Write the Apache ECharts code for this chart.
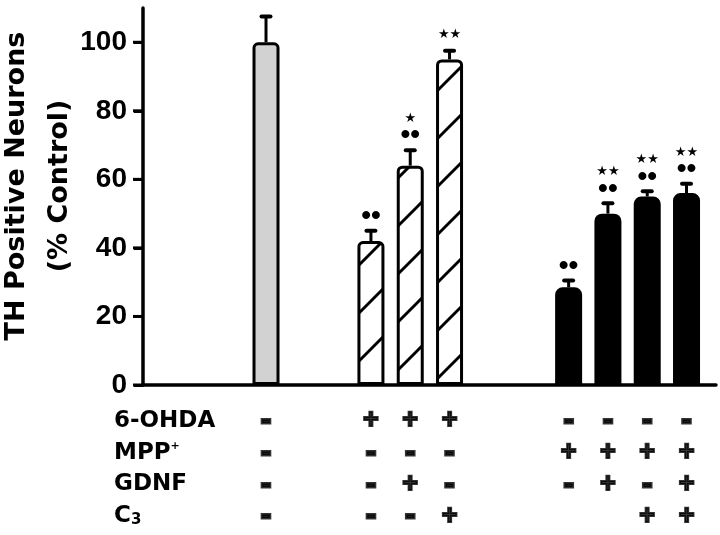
<!DOCTYPE html>
<html><head><meta charset="utf-8">
<script src="https://cdn.jsdelivr.net/npm/echarts@6/dist/echarts.min.js"></script>
<style>html,body{margin:0;padding:0;background:#fff}#c{width:720px;height:535px}</style>
</head><body><div id="c"></div>
<script>
// ---- data ----
const conditions = ['Control','6-OHDA','6-OHDA + GDNF','6-OHDA + C3','MPP+','MPP+ + GDNF','MPP+ + C3','MPP+ + GDNF + C3'];
const groups = ['control','ohda','ohda','ohda','mpp','mpp','mpp','mpp'];
const xSlots = [0, 2.67, 3.67, 4.67, 7.7, 8.7, 9.7, 10.7];
const values = [100, 42, 64, 95, 28.5, 50, 55, 56];
const errors = [7.5, 3, 4.5, 2.5, 2, 3, 1.5, 2.7];
const dotMarks = [0, 1, 1, 0, 1, 1, 1, 1];
const starMarks = [0, 0, 1, 2, 0, 2, 2, 2];
const yTicks = [0, 20, 40, 60, 80, 100];
const rowLabels = ['6-OHDA', 'MPP+', 'GDNF', 'C3'];
const row6OHDA = ['-','+','+','+','-','-','-','-'];
const rowMPP   = ['-','-','-','-','+','+','+','+'];
const rowGDNF  = ['-','-','+','-','-','+','-','+'];
const rowC3    = ['-','-','-','+','','','+','+'];
const yTitle = ['TH Positive Neurons', '(% Control)'];

// ---- styles ----
function hatchPattern() {
  const s = 48, c = document.createElement('canvas');
  c.width = s; c.height = s;
  const g = c.getContext('2d');
  g.strokeStyle = '#000'; g.lineWidth = 3;
  [0, s, 2 * s].forEach(k => { g.beginPath(); g.moveTo(-10, k + 10); g.lineTo(k + 10, -10); g.stroke(); });
  return c;
}
const hatch = hatchPattern();
const groupStyle = {
  control: { color: '#d2d2d2', borderColor: '#000', borderWidth: 3, borderRadius: [4,4,0,0] },
  ohda: { color: { image: hatch, repeat: 'repeat' }, borderColor: '#000', borderWidth: 3, borderRadius: [4,4,0,0] },
  mpp: { color: '#000', borderColor: '#000', borderWidth: 3, borderRadius: [6,6,0,0] }
};

const X_MIN = -3.13, X_MAX = 11.45;
const tickFont = { fontFamily: 'Liberation Sans', fontWeight: 'bold', fontSize: 28, color: '#000' };

const barData = values.map((v, i) => ({ name: conditions[i], value: [xSlots[i], v], itemStyle: groupStyle[groups[i]] }));
const errData = values.map((v, i) => [xSlots[i], v, errors[i], dotMarks[i], starMarks[i]]);
const rows = [row6OHDA, rowMPP, rowGDNF, rowC3];
const signData = [];
rows.forEach((r, ri) => r.forEach((s, i) => { if (s) signData.push([xSlots[i], ri, s]); }));

const chart = echarts.init(document.getElementById('c'), null, { renderer: 'canvas' });
chart.setOption({
  animation: false,
  backgroundColor: '#fff',
  grid: [
    { left: 143, right: 4, top: 8, bottom: 150 },
    { left: 143, right: 4, top: 405, bottom: 3 }
  ],
  xAxis: [
    { gridIndex: 0, type: 'value', min: X_MIN, max: X_MAX,
      axisLine: { show: true, onZero: false, lineStyle: { color: '#000', width: 3.5 } },
      axisTick: { show: false }, axisLabel: { show: false }, splitLine: { show: false } },
    { gridIndex: 1, type: 'value', min: X_MIN, max: X_MAX, show: false }
  ],
  yAxis: [
    { gridIndex: 0, type: 'value', min: 0, max: 110, interval: 20,
      axisLine: { show: true, onZero: false, lineStyle: { color: '#000', width: 3.5 } },
      axisTick: { show: true, inside: false, length: 9, lineStyle: { color: '#000', width: 3 } },
      axisLabel: Object.assign({ margin: 16, showMaxLabel: false,
        formatter: v => (yTicks.indexOf(v) >= 0 ? String(v) : '') }, tickFont),
      splitLine: { show: false } },
    { gridIndex: 1, type: 'category', inverse: true, data: rowLabels,
      axisLine: { show: false }, axisTick: { show: false }, splitLine: { show: false },
      axisLabel: {
        align: 'left', margin: 29,
        fontFamily: 'DejaVu Sans', fontWeight: 'bold', fontSize: 23, color: '#000',
        formatter: v => v === 'MPP+' ? 'MPP{sup|+}' : (v === 'C3' ? 'C{sub|3}' : v),
        rich: {
          sup: { fontFamily: 'DejaVu Sans', fontWeight: 'bold', fontSize: 11, color: '#000', verticalAlign: 'top' },
          sub: { fontFamily: 'DejaVu Sans', fontWeight: 'bold', fontSize: 15, color: '#000', verticalAlign: 'bottom', lineHeight: 15 }
        }
      } }
  ],
  series: [
    { type: 'bar', xAxisIndex: 0, yAxisIndex: 0, barWidth: 27, data: barData, z: 2 },
    { type: 'custom', xAxisIndex: 0, yAxisIndex: 0, data: errData, z: 3,
      encode: { x: 0, y: 1 },
      renderItem: function (params, api) {
        const x = api.value(0), y = api.value(1), e = api.value(2);
        const nd = api.value(3), ns = api.value(4);
        const base = api.coord([x, y]);
        const top = api.coord([x, y + e]);
        const ch = [
          { type: 'line', shape: { x1: base[0], y1: base[1], x2: top[0], y2: top[1] }, style: { stroke: '#000', lineWidth: 3 } },
          { type: 'rect', shape: { x: top[0] - 6.5, y: top[1] - 2, width: 13, height: 4, r: 2 }, style: { fill: '#000' } }
        ];
        let yy = top[1] - 16;
        if (nd) {
          ch.push({ type: 'text', x: top[0], y: top[1] - 14.5,
            style: { text: '••', align: 'center', verticalAlign: 'middle', font: 'bold 28px "Liberation Sans"', fill: '#000' } });
          yy = top[1] - 31.5;
        }
        if (ns) {
          ch.push({ type: 'text', x: top[0], y: yy,
            style: { text: '★'.repeat(ns), align: 'center', verticalAlign: 'middle', font: '13px "DejaVu Sans"', fill: '#000' } });
        }
        return { type: 'group', children: ch };
      } },
    { type: 'scatter', xAxisIndex: 1, yAxisIndex: 1, data: signData, symbol: 'circle', symbolSize: 1,
      itemStyle: { color: 'transparent' },
      label: { show: true, position: 'inside',
        formatter: p => p.value[2] === '+' ? '{p|+}' : '{m|-}',
        rich: {
          p: { fontFamily: 'Liberation Sans', fontWeight: 'bold', fontSize: 27, color: '#000', textBorderColor: '#000', textBorderWidth: 2 },
          m: { fontFamily: 'Liberation Sans', fontWeight: 'bold', fontSize: 30, color: '#000', textBorderColor: '#000', textBorderWidth: 3 }
        } } }
  ]
});

// y-axis title and tick marks placed through the axis scale
const gridRect = chart.getModel().getComponent('grid', 0).coordinateSystem.getRect();
const graphics = [{
  type: 'text', x: 38.5, y: 186, rotation: Math.PI / 2, z: 10,
  style: { text: yTitle.join('\n'), align: 'center', verticalAlign: 'middle',
    font: 'bold 27px "DejaVu Sans"', lineHeight: 43, fill: '#000' }
}];
yTicks.forEach(v => {
  const py = chart.convertToPixel({ gridIndex: 0 }, [X_MIN, v])[1];
  graphics.push({ type: 'rect', z: 10, shape: { x: gridRect.x - 10, y: py - 1.5, width: 10, height: 3 }, style: { fill: '#000' } });
});
chart.setOption({ graphic: graphics });
</script>
</body></html>
